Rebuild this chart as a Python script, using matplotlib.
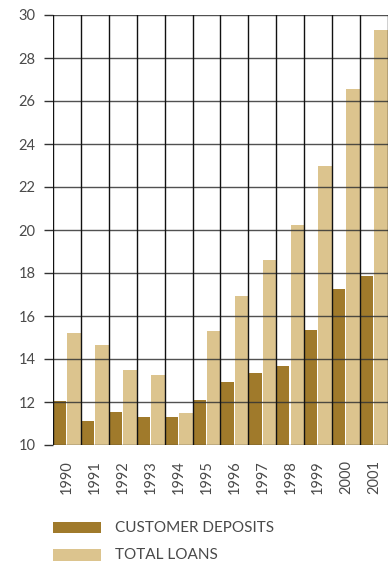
import matplotlib
matplotlib.use("Agg")
import matplotlib.pyplot as plt
from matplotlib.patches import Rectangle

years = ["1990", "1991", "1992", "1993", "1994", "1995",
         "1996", "1997", "1998", "1999", "2000", "2001"]
customer_deposits = [12.03, 11.12, 11.53, 11.30, 11.30, 12.09,
                     12.93, 13.35, 13.67, 15.35, 17.26, 17.86]
total_loans = [15.2, 14.65, 13.49, 13.26, 11.49, 15.3,
               16.93, 18.6, 20.23, 22.98, 26.56, 29.3]
y_ticks = [10, 12, 14, 16, 18, 20, 22, 24, 26, 28, 30]
legend_labels = ["CUSTOMER DEPOSITS", "TOTAL LOANS"]

dep_color = "#A07A2B"
loan_color = "#DCC48E"
text_color = "#4a4a4a"

plt.rcParams["font.family"] = ["Lato", "DejaVu Sans"]

W, H = 390, 563
fig = plt.figure(figsize=(W / 100, H / 100), dpi=100)
ax = fig.add_axes([53 / W, 118 / H, 335 / W, 430 / H])

x = list(range(len(years)))
ax.bar([i - 0.5 for i in x], [v - 10 for v in customer_deposits], bottom=10,
       width=0.47, align="edge", color=dep_color, zorder=1)
ax.bar([i + 0.01 for i in x], [v - 10 for v in total_loans], bottom=10,
       width=0.49, align="edge", color=loan_color, zorder=1)

ax.set_xlim(-0.5, len(years) - 0.5)
ax.set_ylim(10, 30)

# grid drawn over the bars
for yv in y_ticks:
    ax.axhline(yv, color="#333333", lw=1.0, zorder=3, alpha=0.85)
for b in range(len(years) + 1):
    ax.axvline(b - 0.5, color="#111111", lw=1.0, zorder=3)

for s in ax.spines.values():
    s.set_visible(False)

ax.set_yticks(y_ticks)
ax.set_yticklabels([str(t) for t in y_ticks], fontsize=10.5, color=text_color)
ax.tick_params(axis="y", length=6.5, width=1.0, color="#333333", pad=6)
ax.set_xticks(x)
ax.set_xticklabels(years, rotation=90, fontsize=10.5, color=text_color)
ax.tick_params(axis="x", length=0, pad=11)

# legend: swatches and labels placed in figure pixels
for (top, bottom), color, label in zip([(522, 533), (549, 561)],
                                       [dep_color, loan_color], legend_labels):
    fig.patches.append(Rectangle((53 / W, 1 - bottom / H), 48 / W, (bottom - top) / H,
                                 transform=fig.transFigure, facecolor=color,
                                 edgecolor="none"))
    fig.text(115 / W, 1 - (top + bottom) / 2 / H, label, fontsize=11,
             color=text_color, va="center", ha="left")

fig.savefig("out.png", dpi=100)
